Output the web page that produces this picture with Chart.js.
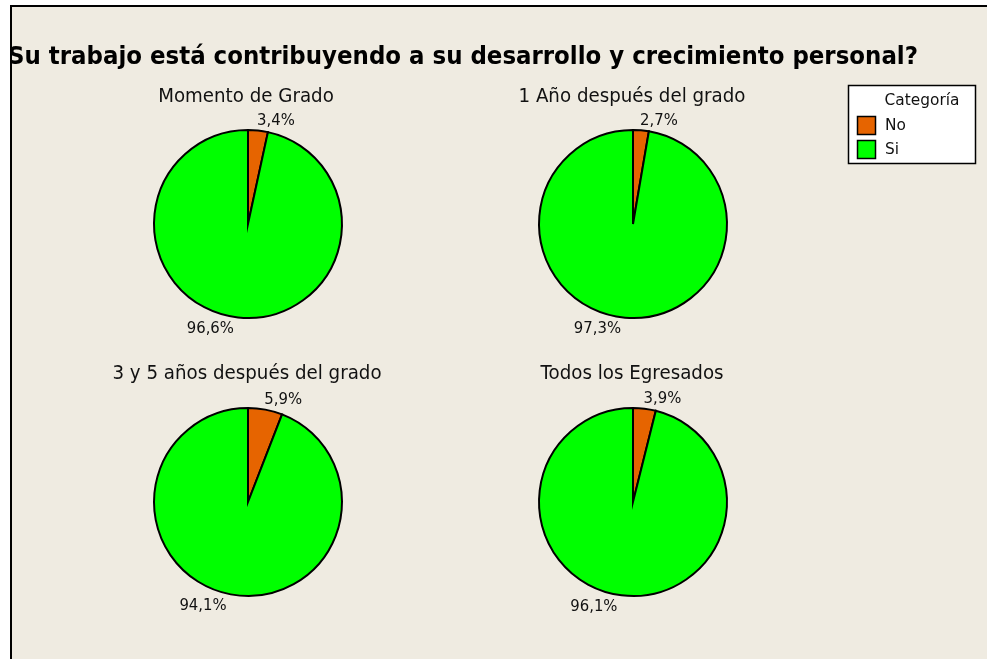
<!DOCTYPE html>
<html>
<head>
<meta charset="utf-8">
<script src="https://cdn.jsdelivr.net/npm/chart.js@4.4.1/dist/chart.umd.min.js"></script>
<style>
    html, body { margin: 0; padding: 0; background: #ffffff; }
    #page { position: relative; width: 987px; height: 659px; overflow: hidden; }
    #frame {
        position: absolute; left: 10px; top: 5px; width: 990px; height: 670px;
        background: #EFEBE1; border-left: 2px solid #000; border-top: 2px solid #000;
    }
    canvas { position: absolute; left: 0; top: 0; }
</style>
</head>
<body>
<div id="page">
    <div id="frame"></div>
    <canvas id="pie0" width="987" height="659"></canvas>
    <canvas id="pie1" width="987" height="659"></canvas>
    <canvas id="pie2" width="987" height="659"></canvas>
    <canvas id="pie3" width="987" height="659"></canvas>
</div>
<script>
// Datos del gráfico
const chartTitle = '¿Su trabajo está contribuyendo a su desarrollo y crecimiento personal?';
const categories = ['No', 'Si'];
const groups = ['Momento de Grado', '1 Año después del grado', '3 y 5 años después del grado', 'Todos los Egresados'];
const noValues = [3.4, 2.7, 5.9, 3.9];
const siValues = [96.6, 97.3, 94.1, 96.1];
const sliceColors = ['#E66400', '#00FF00'];

const W = 987, H = 659;
const FONT = '"DejaVu Sans", sans-serif';
const SQUEEZE = 0.96; // imitar Tahoma

// posiciones de cada panel
const panels = [
    { cx: 248, cy: 224, subX: 246, subY: 97 },
    { cx: 633, cy: 224, subX: 632, subY: 97 },
    { cx: 248, cy: 502, subX: 247, subY: 374 },
    { cx: 633, cy: 502, subX: 632, subY: 374 }
];
const R = 94;

function drawText(ctx, text, x, y, size, bold, align, baseline) {
    ctx.save();
    ctx.font = (bold ? 'bold ' : '') + size + 'px ' + FONT;
    ctx.textBaseline = baseline || 'middle';
    ctx.fillStyle = '#111';
    const w = ctx.measureText(text).width * SQUEEZE;
    let left = x;
    if (align === 'center') left = x - w / 2;
    else if (align === 'right') left = x - w;
    ctx.translate(left, y);
    ctx.scale(SQUEEZE, 1);
    ctx.textAlign = 'left';
    ctx.fillText(text, 0, 0);
    ctx.restore();
}

const fmt = v => v.toFixed(1).replace('.', ',') + '%';

const labelPlugin = {
    id: 'pieLabels',
    afterDatasetsDraw(chart) {
        const ctx = chart.ctx;
        const meta = chart.getDatasetMeta(0);
        const values = chart.data.datasets[0].data;
        meta.data.forEach((arc, i) => {
            const mid = (arc.startAngle + arc.endAngle) / 2;
            const r = arc.outerRadius;
            const x = arc.x + Math.cos(mid) * r;
            const y = arc.y + Math.sin(mid) * r;
            const right = Math.cos(mid) >= 0;
            const top = Math.sin(mid) < 0;
            drawText(ctx, fmt(values[i]),
                right ? x - 1 : x - 4,
                top ? y - 2 : y + 4,
                15.5, false, right ? 'left' : 'right', top ? 'bottom' : 'top');
        });
        const p = chart.options.plugins.pieLabels;
        drawText(ctx, p.subtitle, p.subX, p.subY, 19, false, 'center', 'middle');
    }
};

const decorPlugin = {
    id: 'decor',
    afterDraw(chart) {
        const ctx = chart.ctx;
        // título, recortado por el marco
        ctx.save();
        ctx.beginPath();
        ctx.rect(12, 7, W, H);
        ctx.clip();
        ctx.font = 'bold 24px ' + FONT;
        const head = ctx.measureText('¿').width;
        const full = ctx.measureText(chartTitle).width;
        const sx = 910 / (full - head);
        ctx.translate(8 - head * sx, 58);
        ctx.scale(sx, 1);
        ctx.textBaseline = 'middle';
        ctx.fillStyle = '#000';
        ctx.fillText(chartTitle, 0, 0);
        ctx.restore();

        // leyenda
        ctx.save();
        ctx.fillStyle = '#ffffff';
        ctx.strokeStyle = '#000';
        ctx.lineWidth = 1.5;
        ctx.fillRect(848.5, 85.5, 127, 78);
        ctx.strokeRect(848.5, 85.5, 127, 78);
        drawText(ctx, 'Categoría', 922, 101, 16, false, 'center', 'middle');
        categories.forEach((c, i) => {
            const y = 116 + i * 24;
            ctx.fillStyle = sliceColors[i];
            ctx.fillRect(857.5, y + 0.5, 18, 18);
            ctx.strokeStyle = '#000';
            ctx.lineWidth = 1.5;
            ctx.strokeRect(857.5, y + 0.5, 18, 18);
            drawText(ctx, c, 885, y + 10, 16, false, 'left', 'middle');
        });
        ctx.restore();
    }
};

const charts = [];
groups.forEach((g, i) => {
    const p = panels[i];
    const size = 2 * R + 2;
    const canvas = document.getElementById('pie' + i);
    const config = {
        type: 'pie',
        data: {
            labels: categories,
            datasets: [{
                data: [noValues[i], siValues[i]],
                backgroundColor: sliceColors,
                borderColor: '#000000',
                borderWidth: 2,
                borderJoinStyle: 'miter'
            }]
        },
        options: {
            responsive: false,
            animation: false,
            devicePixelRatio: 1,
            layout: {
                padding: {
                    left: p.cx - size / 2,
                    right: W - (p.cx + size / 2),
                    top: p.cy - size / 2,
                    bottom: H - (p.cy + size / 2)
                }
            },
            plugins: {
                legend: { display: false },
                tooltip: { enabled: false },
                title: { display: false },
                pieLabels: { subtitle: g, subX: p.subX, subY: p.subY }
            }
        },
        plugins: i === 0 ? [labelPlugin, decorPlugin] : [labelPlugin]
    };
    charts.push(new Chart(canvas.getContext('2d'), config));
});
</script>
</body>
</html>
